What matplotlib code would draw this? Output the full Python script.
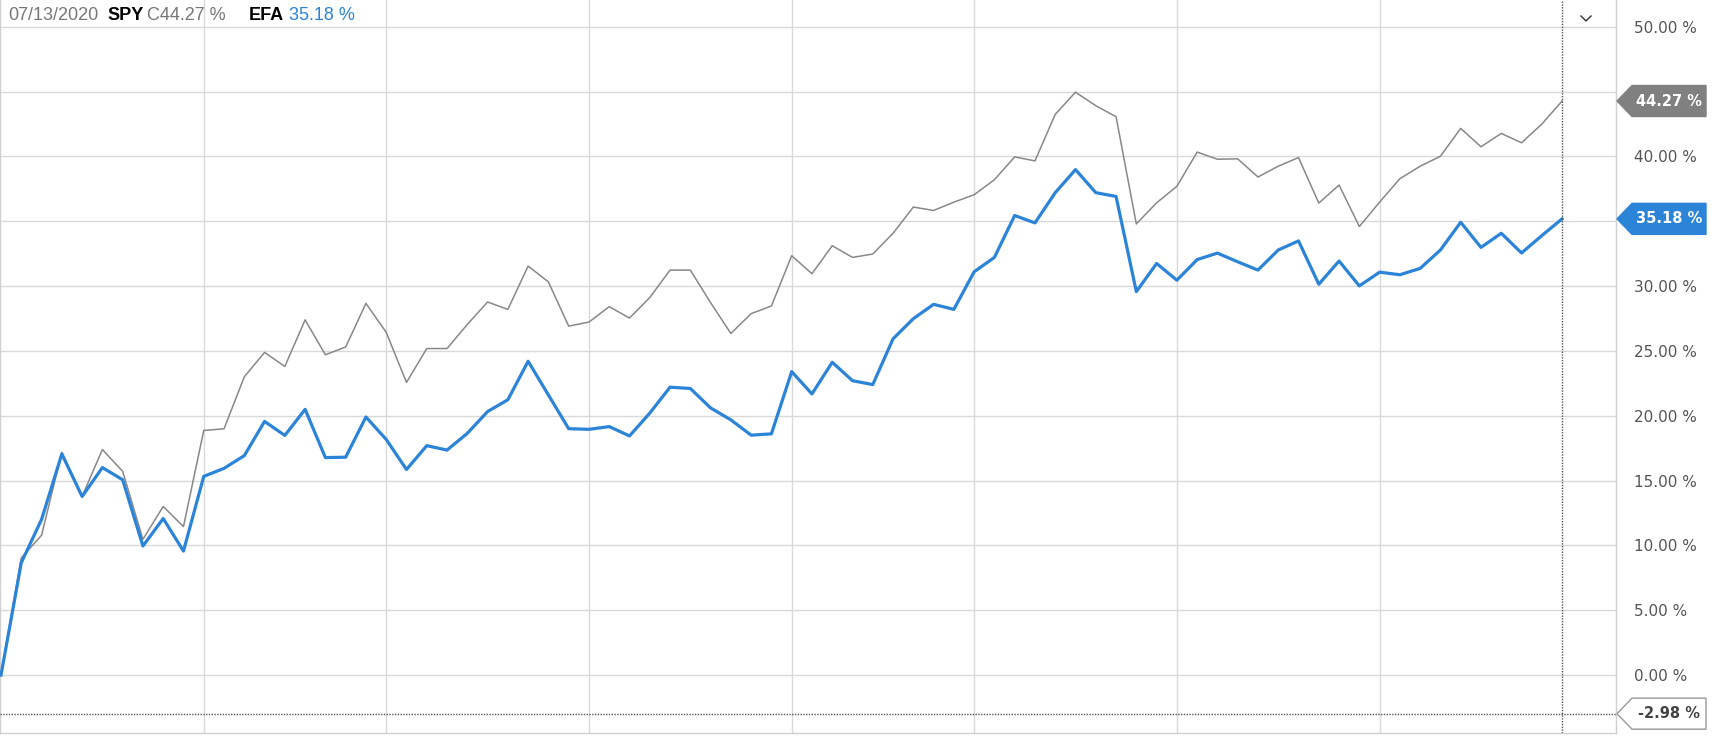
import numpy as np
import matplotlib.pyplot as plt
from matplotlib.patches import Polygon
from matplotlib.lines import Line2D
from matplotlib.transforms import IdentityTransform

# percent change since start, one value per period
date = "07/13/2020"
spy = [0, 9.04, 10.78, 17.18, 13.77, 17.39, 15.71, 10.47, 13.0, 11.45,
       18.86, 18.99, 23.0, 24.88, 23.8, 27.39, 24.7, 25.3, 28.66, 26.43,
       22.57, 25.18, 25.18, 27.04, 28.77, 28.2, 31.54, 30.32, 26.91, 27.22,
       28.41, 27.53, 29.11, 31.23, 31.23, 28.72, 26.34, 27.87, 28.46, 32.34,
       30.95, 33.11, 32.21, 32.47, 34.07, 36.09, 35.83, 36.47, 37.04, 38.2,
       39.96, 39.65, 43.24, 44.95, 43.91, 43.06, 34.79, 36.42, 37.69, 40.33,
       39.78, 39.81, 38.41, 39.24, 39.91, 36.4, 37.79, 34.59, 36.47, 38.28,
       39.24, 40.01, 42.16, 40.74, 41.77, 41.05, 42.49, 44.27]
efa = [0, 8.66, 12.0, 17.05, 13.77, 16.0, 15.06, 9.95, 12.07, 9.56,
       15.32, 15.94, 16.92, 19.56, 18.48, 20.49, 16.77, 16.8, 19.9, 18.17,
       15.85, 17.69, 17.35, 18.64, 20.32, 21.23, 24.2, 21.6, 19.0, 18.95,
       19.16, 18.44, 20.2, 22.2, 22.1, 20.6, 19.68, 18.5, 18.6, 23.4,
       21.68, 24.12, 22.7, 22.4, 25.93, 27.48, 28.59, 28.2, 31.1, 32.21,
       35.44, 34.87, 37.2, 38.98, 37.2, 36.91, 29.57, 31.74, 30.45, 32.04,
       32.54, 31.87, 31.23, 32.78, 33.48, 30.14, 31.93, 30.01, 31.07, 30.87,
       31.36, 32.78, 34.92, 32.98, 34.07, 32.55, 33.89, 35.18]
cursor_val = -2.98
month_idx = [10, 19, 29, 39, 48, 58, 68]
yticks = np.arange(0, 51, 5)

W, H = 1714, 736
fig = plt.figure(figsize=(W / 100, H / 100), dpi=100)
ax = fig.add_axes([0, 3 / H, 1616 / W, 733 / H])
x = np.arange(len(spy))
ax.plot(x, spy, color='#888888', lw=1.1, zorder=3)
ax.plot(x, efa, color='#2b84d8', lw=2.3, zorder=4)
ax.set_xlim(-0.05, 79.66)
ax.set_ylim(-4.47, 52.06)

ax.set_yticks(yticks)
ax.set_yticklabels([f'{v:.2f} %' for v in yticks])
ax.yaxis.tick_right()
ax.tick_params(axis='y', length=0, pad=13, labelsize=11, labelcolor='#555555')
ax.set_xticks(month_idx)
ax.tick_params(axis='x', length=0, labelbottom=False)
ax.grid(color='#d9d9d9', lw=1.0)
ax.spines['top'].set_visible(False)
for s in ['left', 'right', 'bottom']:
    ax.spines[s].set_color('#d0d0d0')
    ax.spines[s].set_linewidth(1.0)

# crosshair
ax.axvline(x[-1], color='#555555', lw=1.0, ls=(0, (1, 1)), zorder=5)
ax.axhline(cursor_val, color='#555555', lw=1.0, ls=(0, (1, 1)), zorder=5)


def tag(val, text, face, edge, color):
    _, yd = ax.transData.transform((0, val))
    x0, x1, x2, h = 1617, 1632, 1706, 15.5
    poly = Polygon([(x0, yd), (x1, yd + h), (x2, yd + h), (x2, yd - h), (x1, yd - h)],
                   closed=True, transform=IdentityTransform(), facecolor=face,
                   edgecolor=edge, lw=1, zorder=10)
    fig.add_artist(poly)
    fig.text(1669, yd, text, transform=IdentityTransform(), ha='center', va='center',
             fontsize=10.5, fontweight='bold', color=color, zorder=11)


tag(spy[-1], f'{spy[-1]:.2f} %', '#808080', '#808080', 'white')
tag(efa[-1], f'{efa[-1]:.2f} %', '#2b84d8', '#2b84d8', 'white')
tag(cursor_val, f'{cursor_val:.2f} %', 'white', '#999999', '#444444')

# header
hy = 1 - 16 / H
hf = 'Liberation Sans'
fs = 13
fig.text(8 / W, hy, date, color='#777777', fontsize=fs, family=hf, va='center')
fig.text(107 / W, hy, 'SPY', color='black', fontsize=fs, family=hf, fontweight='bold', va='center')
fig.text(147 / W, hy, f'C{spy[-1]:.2f} %', color='#777777', fontsize=fs, family=hf, va='center')
fig.text(249 / W, hy, 'EFA', color='black', fontsize=fs, family=hf, fontweight='bold', va='center')
fig.text(289 / W, hy, f'{efa[-1]:.2f} %', color='#2b84d8', fontsize=fs, family=hf, va='center')

# little chevron in the corner
fig.add_artist(Line2D([1581 / W, 1586 / W, 1591 / W], [1 - 16 / H, 1 - 21 / H, 1 - 16 / H],
                      color='#333333', lw=1.0))

fig.savefig('out.png', dpi=100)
